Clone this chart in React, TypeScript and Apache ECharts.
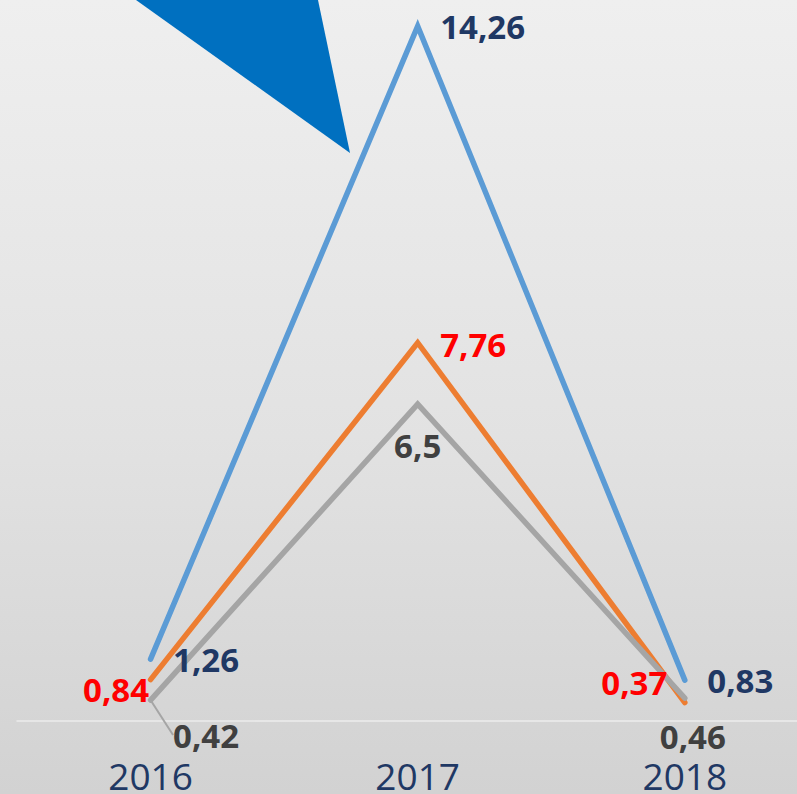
import React, { useEffect, useRef } from "react";
import * as echarts from "echarts";

const years = ["2016", "2017", "2018"];
const seriesBlue = [1.26, 14.26, 0.83];
const seriesOrange = [0.84, 7.76, 0.37];
const seriesGray = [0.42, 6.5, 0.46];
const yMax = 14.8;
const xMin = -0.5;
const xMax = 2.42;

const fmt = (v: number) => String(v).replace(".", ",");
const FONT = "'Open Sans', sans-serif";

export default function App() {
  const ref = useRef<HTMLDivElement>(null);
  useEffect(() => {
    if (!ref.current) return;
    const chart = echarts.init(ref.current, undefined, { renderer: "svg" });
    const baseLabel = (color: string) => ({
      show: true,
      fontFamily: FONT,
      fontWeight: "bold",
      fontSize: 33,
      color,
      formatter: (p: any) => fmt(p.value[1]),
    });
    const blueData = seriesBlue.map((v, i) => ({
      value: [i, v],
      label: { position: "right", distance: 22 },
    }));
    const orangeLabels = [
      { position: "left", distance: 1, offset: [0, 10] },
      { position: "right", distance: 22, offset: [0, 2] },
      { position: "left", distance: 17, offset: [0, -20] },
    ];
    const orangeData = seriesOrange.map((v, i) => ({ value: [i, v], label: orangeLabels[i] }));
    const grayLabels = [
      { position: "right", distance: 22 },
      { position: "bottom", distance: 24 },
      { position: "bottom", distance: 20 },
    ];
    const grayShift = [
      [0, 35],
      [0, 0],
      [8, 1],
    ];
    const grayData = seriesGray.map((v, i) => ({
      value: [i, v],
      label: grayLabels[i],
      labelLine:
        i === 0
          ? { show: true, lineStyle: { color: "#a5a5a5", width: 2 } }
          : { show: false },
    }));
    const lineCommon = {
      type: "line",
      showSymbol: true,
      symbol: "circle",
      symbolSize: 1,
      itemStyle: { color: "rgba(0,0,0,0)", borderWidth: 0 },
      silent: true,
    };
    const option = {
      animation: false,
      backgroundColor: {
        type: "linear",
        x: 0,
        y: 0,
        x2: 0,
        y2: 1,
        colorStops: [
          { offset: 0, color: "#efefef" },
          { offset: 0.55, color: "#e2e2e2" },
          { offset: 1, color: "#d2d2d2" },
        ],
      },
      grid: { left: 17, right: 0, top: 0, bottom: 73, containLabel: false },
      xAxis: {
        type: "value",
        min: xMin,
        max: xMax,
        axisLine: { show: true, onZero: false, lineStyle: { color: "#ececec", width: 1.5 } },
        axisTick: { show: false },
        axisLabel: {
          customValues: [0, 1, 2],
          formatter: (v: number) => years[Math.round(v)] ?? "",
          color: "#1f3864",
          fontFamily: FONT,
          fontSize: 37,
          lineHeight: 30,
          margin: 40,
          showMinLabel: true,
          showMaxLabel: true,
        },
        splitLine: { show: false },
      },
      yAxis: {
        type: "value",
        min: 0,
        max: yMax,
        show: false,
        splitLine: { show: false },
      },
      graphic: [
        {
          type: "polygon",
          shape: { points: [[136, 0], [318, 0], [350, 153]] },
          style: { fill: "#0070c0" },
          z: 10,
        },
      ],
      series: [
        {
          ...lineCommon,
          name: "blue",
          data: blueData,
          lineStyle: { color: "#5b9bd5", width: 5.5, cap: "round", join: "miter" },
          label: baseLabel("#1f3864"),
        },
        {
          ...lineCommon,
          name: "orange",
          data: orangeData,
          lineStyle: { color: "#ed7d31", width: 5.5, cap: "round", join: "miter" },
          label: baseLabel("#ff0000"),
        },
        {
          ...lineCommon,
          name: "gray",
          data: grayData,
          lineStyle: { color: "#a5a5a5", width: 5.5, cap: "round", join: "miter" },
          label: baseLabel("#404040"),
          labelLayout: (params: any) => {
            const i = params.dataIndex;
            const [dx, dy] = grayShift[i] || [0, 0];
            if (i !== 0) return { dx, dy };
            const r = params.rect;
            const l = params.labelRect;
            const cx = r.x + r.width / 2;
            const cy = r.y + r.height / 2;
            const ly = l.y + dy + l.height / 2 - 4;
            return {
              dx,
              dy,
              labelLinePoints: [
                [cx, cy],
                [cx + 2, ly],
                [l.x + dx - 9, ly],
              ],
            };
          },
        },
      ],
    };
    chart.setOption(option as any);
    chart.setOption(option as any);
    return () => chart.dispose();
  }, []);
  return (
    <div
      ref={ref}
      style={{ position: "fixed", left: 0, top: 0, width: 797, height: 794 }}
    />
  );
}
